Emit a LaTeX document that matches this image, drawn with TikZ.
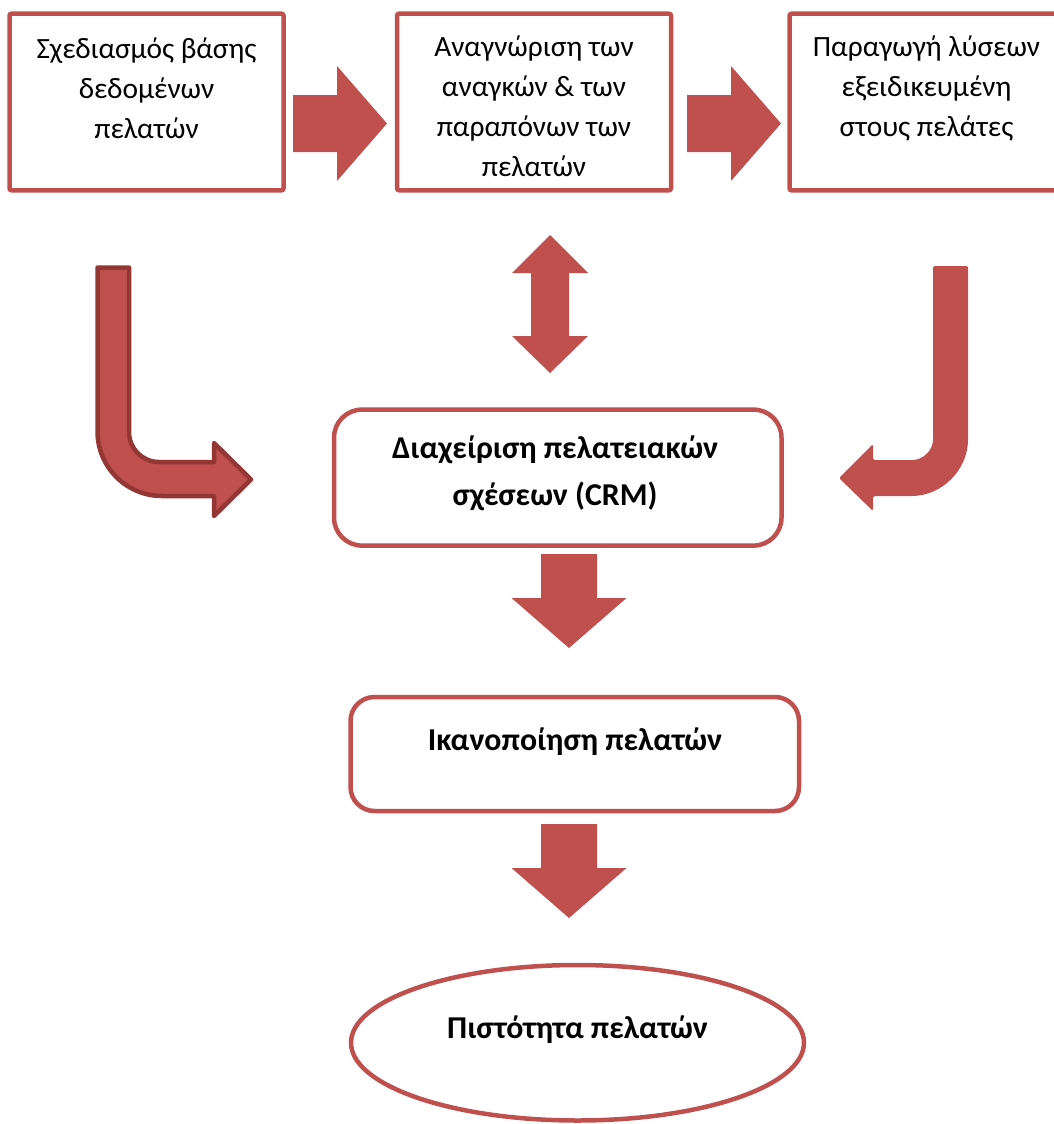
\documentclass[tikz,border=0pt]{standalone}
\usepackage{fontspec}
\setmainfont{Carlito}
\usetikzlibrary{shapes.geometric}
\definecolor{crmred}{HTML}{C0504D}
\definecolor{crmdark}{HTML}{943634}
\begin{document}
\begin{tikzpicture}[x=1pt,y=-1pt,
  stepbox/.style={draw=crmred,line width=4.5pt,fill=white,inner sep=0pt,rounded corners=2pt},
  roundbox/.style={draw=crmred,line width=4.5pt,fill=white,inner sep=0pt},
  goalshape/.style={ellipse,draw=crmred,line width=4.5pt,fill=white,inner sep=0pt},
  txt/.style={align=center,inner sep=0pt,font=\fontsize{29.4}{40}\selectfont},
  btxt/.style={align=center,inner sep=0pt,font=\fontsize{31.8}{47}\selectfont\bfseries},
  blockfill/.style={fill=crmred},
  downblk/.pic={\fill[blockfill] (-28,0) -- (28,0) -- (28,44) -- (57.5,44) -- (0,94) -- (-57.5,44) -- (-28,44) -- cycle;},
  rightblk/.pic={\fill[blockfill] (0,-28.5) -- (44,-28.5) -- (44,-57.5) -- (94,0) -- (44,57.5) -- (44,28.5) -- (0,28.5) -- cycle;},
  updownblk/.pic={\fill[blockfill] (0,0) -- (38,38) -- (19,38) -- (19,101) -- (38,101) -- (0,138) -- (-38,101) -- (-19,101) -- (-19,38) -- (-38,38) -- cycle;}
]
\useasboundingbox (0,0) rectangle (1053,1124);

% process steps along the top
\node[stepbox,minimum width=274pt,minimum height=176.5pt] (s1) at (146.5,102) {};
\node[stepbox,minimum width=274pt,minimum height=176.5pt] (s2) at (534,102) {};
\node[stepbox,minimum width=274pt,minimum height=176.5pt] (s3) at (926.5,102) {};
\node[txt] (t1) at (146.5,88) {Σχεδιασμός βάσης\\δεδομένων\\πελατών};
\node[txt] (t2) at (534,106) {Αναγνώριση των\\αναγκών \& των\\παραπόνων των\\πελατών};
\node[txt] (t3) at (926.5,88) {Παραγωγή λύσεων\\εξειδικευμένη\\στους πελάτες};

% central management box, outcome and goal
\node[roundbox,rounded corners=28pt,minimum width=447.5pt,minimum height=136pt] (crm) at (557.75,477.6) {};
\node[btxt] (tcrm) at (555,473.5) {Διαχείριση πελατειακών\\σχέσεων (CRM)};
\node[roundbox,rounded corners=24pt,minimum width=448.5pt,minimum height=114pt] (sat) at (574.75,754) {};
\node[btxt] (tsat) at (575,742) {Ικανοποίηση πελατών};
\node[goalshape,minimum width=453pt,minimum height=155.5pt] (loy) at (577.5,1042.75) {};
\node[btxt] (tloy) at (577.5,1030) {Πιστότητα πελατών};

% block arrows between the steps
\pic at (293,123.5) {rightblk};
\pic at (687,123.5) {rightblk};
\pic at (550,235) {updownblk};
\pic at (569,554) {downblk};
\pic at (569,824) {downblk};

% bent arrow from the database step into CRM
\filldraw[blockfill,draw=crmdark,line width=4.5pt,line join=round]
  (97.5,267.5) -- (129,267.5) -- (129,432)
  .. controls (129,448.6) and (142.4,462) .. (159,462)
  -- (214,462) -- (214,443) -- (251,479.5) -- (214,516) -- (214,496) -- (162,496)
  .. controls (126.4,496) and (97.5,467.1) .. (97.5,431.5) -- cycle;

% bent arrow from the solutions step into CRM
\fill[blockfill,rounded corners=1.5pt]
  (933,266) -- (968,266) -- (968,438)
  .. controls (968,470) and (942,496) .. (910,496)
  -- (873,496) -- (873,511) -- (839,478) -- (873,444) -- (873,460) -- (911,460)
  .. controls (923.2,460) and (933,450.2) .. (933,438) -- cycle;
\end{tikzpicture}
\end{document}
